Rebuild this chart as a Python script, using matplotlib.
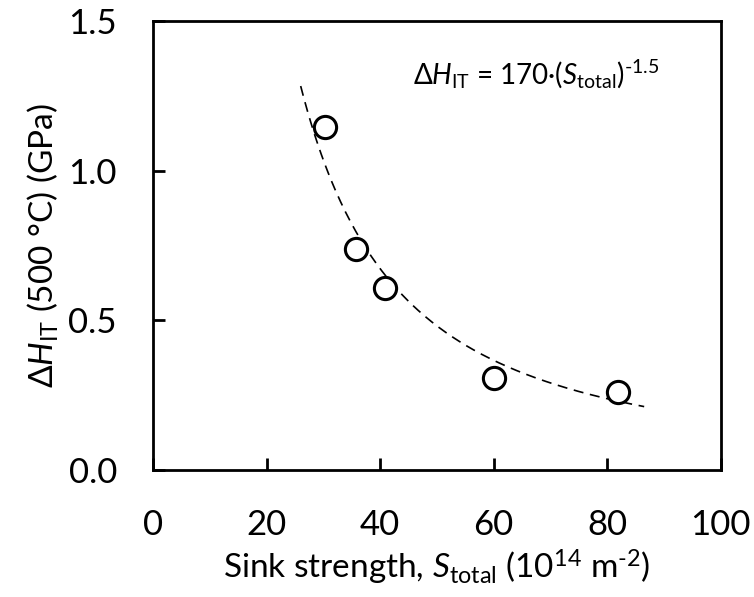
import numpy as np
import matplotlib
matplotlib.use('Agg')
import matplotlib.pyplot as plt

plt.rcParams['font.family'] = ['Lato', 'DejaVu Sans']
plt.rcParams['mathtext.fontset'] = 'custom'
plt.rcParams['mathtext.rm'] = 'Lato'
plt.rcParams['mathtext.it'] = 'Lato:italic'
plt.rcParams['mathtext.default'] = 'regular'

# datos
sink_strength = [30.2, 35.8, 40.9, 60.1, 81.9]
delta_h = [1.145, 0.737, 0.606, 0.306, 0.259]

# ajuste mostrado en la figura: dH = 170*S^-1.5
fit_coef = 170
fit_exp = -1.5
fit_range = [26.0, 86.5]

x_ticks = [0, 20, 40, 60, 80, 100]
y_ticks = [0.0, 0.5, 1.0, 1.5]

fig = plt.figure(figsize=(7.54, 5.97), dpi=100)
ax = fig.add_axes([0.203, 0.213, 0.753, 0.752])

s_fit = np.linspace(fit_range[0], fit_range[1], 200)
ax.plot(s_fit, fit_coef * s_fit ** fit_exp, color='black', lw=1.2, dashes=(6, 4))
ax.plot(sink_strength, delta_h, 'o', mfc='white', mec='black', ms=16, mew=2.2, zorder=3)

ax.set_xlim(0, 100)
ax.set_ylim(0, 1.5)
ax.set_xticks(x_ticks)
ax.set_yticks(y_ticks)
ax.set_xticklabels([str(v) for v in x_ticks])
ax.set_yticklabels(['%.1f' % v for v in y_ticks])

for s in ax.spines.values():
    s.set_linewidth(2)
ax.tick_params(direction='in', length=8.5, width=2, labelsize=25, top=False, right=False)
ax.tick_params(axis='x', pad=28)
ax.tick_params(axis='y', pad=26)

ax.set_xlabel(r'Sink strength, $\mathit{S}_{\mathrm{total}}$ (10$^{14}$ m$^{\text{-2}}$)', fontsize=24, labelpad=5)
ax.set_ylabel(r'$\Delta\mathit{H}_{\mathrm{IT}}$ (500 °C) (GPa)', fontsize=24, labelpad=5)

ax.text(67.5, 1.32, r'$\Delta\mathit{H}_{\mathrm{IT}}$ = 170·($\mathit{S}_{\mathrm{total}}$)$^{\text{-1.5}}$',
        fontsize=20, ha='center', va='center')

fig.savefig('out.png', dpi=100)
